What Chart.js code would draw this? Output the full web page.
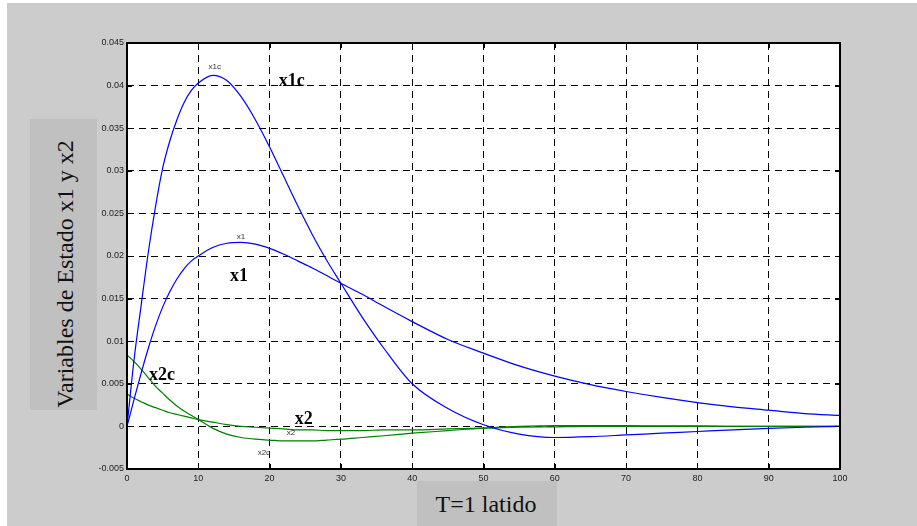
<!DOCTYPE html>
<html>
<head>
<meta charset="utf-8">
<script src="https://cdn.jsdelivr.net/npm/chart.js@4/dist/chart.umd.min.js"></script>
<style>
  body { margin: 0; background: #fff; width: 917px; height: 526px; overflow: hidden; }
  #fondo { position: absolute; left: 7px; top: 3px; width: 910px; height: 523px; background: #cccccc; }
  #grafica { position: absolute; left: 0; top: 0; }
  .caja { position: absolute; background: #c0c0c0; }
  .titulo { position: absolute; font-family: "Liberation Serif", "DejaVu Serif", serif; font-size: 24px; color: #111; white-space: nowrap; }
</style>
</head>
<body>
<div id="fondo">
  <canvas id="grafica" width="910" height="523"></canvas>
  <!-- cajas de los titulos de ejes (coordenadas relativas al fondo) -->
  <div class="caja" style="left:23px; top:116px; width:67px; height:291px;"></div>
  <div class="titulo" id="tituloY" style="left:58px; top:271px; transform: translate(-50%, -50%) rotate(-90deg);">Variables de Estado x1 y x2</div>
  <div class="caja" style="left:410px; top:478px; width:140px; height:45px;"></div>
  <div class="titulo" style="left:479px; top:501px; transform: translate(-50%, -50%);">T=1 latido</div>
</div>
<script>
// ==========================================
// DATOS
// ==========================================
const tiempos = [0, 1, 2, 3, 4, 5, 6, 7, 8, 9, 10, 12, 14, 16, 18, 20, 22, 24, 26, 28, 30, 33, 36, 40, 45, 50, 55, 60, 65, 70, 75, 80, 85, 90, 95, 100];

const x1c = [0, 0.0079, 0.0143, 0.0205, 0.0258, 0.0303, 0.0335, 0.0360, 0.0380, 0.0394, 0.0403, 0.0412, 0.0406, 0.0387, 0.0360, 0.0328, 0.0293, 0.0258, 0.0225, 0.0195, 0.0168, 0.0128, 0.0092, 0.0050, 0.0021, 0.0002, -0.0009, -0.0013, -0.0012, -0.0010, -0.0008, -0.0006, -0.0004, -0.00023, -0.0001, 0];

const x1 = [0, 0.0032, 0.0063, 0.0092, 0.0118, 0.0140, 0.0158, 0.0173, 0.0185, 0.0194, 0.0200, 0.0210, 0.0215, 0.0216, 0.0214, 0.0209, 0.0202, 0.0194, 0.0186, 0.0177, 0.0168, 0.0155, 0.0141, 0.0123, 0.0102, 0.0086, 0.0071, 0.0059, 0.0049, 0.0041, 0.0034, 0.0028, 0.0023, 0.0019, 0.0015, 0.0013];

const x2c = [0.0084, 0.0076, 0.0067, 0.0057, 0.0047, 0.0039, 0.0031, 0.0024, 0.0018, 0.0013, 0.0008, -0.0002, -0.0009, -0.0013, -0.0015, -0.0016, -0.0017, -0.0017, -0.0017, -0.0016, -0.0015, -0.0013, -0.0011, -0.0008, -0.0005, -0.0002, 0, 0.0001, 0.0001, 0.0001, 0.00005, 0.00005, 0, 0, 0, 0];

const x2 = [0.0038, 0.0033, 0.0029, 0.0025, 0.0022, 0.0019, 0.0016, 0.0014, 0.0012, 0.0010, 0.0008, 0.0005, 0.0002, 0, -0.0001, -0.0002, -0.0003, -0.0004, -0.0004, -0.0005, -0.0005, -0.0005, -0.0004, -0.0004, -0.0003, -0.0002, -0.0001, -0.00005, 0, 0, 0, 0, 0, 0, 0, 0];

const ticksX = ['0', '10', '20', '30', '40', '50', '60', '70', '80', '90', '100'];
const ticksY = ['-0.005', '0', '0.005', '0.01', '0.015', '0.02', '0.025', '0.03', '0.035', '0.04', '0.045'];

// etiquetas sobre las curvas: [texto, t, valor, grande]
const etiquetas = [
    ['x1c', 12.3, 0.0422, false],
    ['x1c', 23.1, 0.0405, true],
    ['x1', 16.0, 0.0223, false],
    ['x1', 15.7, 0.0176, true],
    ['x2c', 4.9, 0.0060, true],
    ['x2', 24.8, 0.0008, true],
    ['x2', 23.0, -0.0007, false],
    ['x2c', 19.2, -0.0031, false]
];

function serie(valores) {
    return tiempos.map((t, i) => ({ x: t, y: valores[i] }));
}

// ==========================================
// PLUGINS (fondo blanco, marco, marcas y textos)
// ==========================================
const marcoPlugin = {
    id: 'marco',
    beforeDraw(chart) {
        const a = chart.chartArea;
        const ctx = chart.ctx;
        ctx.save();
        ctx.fillStyle = '#fff';
        ctx.fillRect(a.left, a.top, a.right - a.left, a.bottom - a.top);
        ctx.restore();
    },
    afterDraw(chart) {
        const a = chart.chartArea;
        const ctx = chart.ctx;
        const sx = chart.scales.x, sy = chart.scales.y;
        ctx.save();
        ctx.strokeStyle = '#000';
        ctx.lineWidth = 1;
        ctx.beginPath();
        ticksX.forEach(v => {
            const px = Math.round(sx.getPixelForValue(Number(v))) + 0.5;
            ctx.moveTo(px, a.top); ctx.lineTo(px, a.top + 5);
            ctx.moveTo(px, a.bottom); ctx.lineTo(px, a.bottom - 5);
        });
        ticksY.forEach(v => {
            const py = Math.round(sy.getPixelForValue(Number(v))) + 0.5;
            ctx.moveTo(a.left, py); ctx.lineTo(a.left + 5, py);
            ctx.moveTo(a.right, py); ctx.lineTo(a.right - 5, py);
        });
        ctx.stroke();
        ctx.lineWidth = 2;
        ctx.strokeRect(a.left, a.top, a.right - a.left, a.bottom - a.top);

        ctx.textAlign = 'center';
        ctx.textBaseline = 'middle';
        etiquetas.forEach(([texto, t, v, grande]) => {
            ctx.font = grande ? 'bold 18px "Liberation Serif", serif' : '8px "Liberation Sans", Arial, sans-serif';
            ctx.fillStyle = grande ? '#000' : '#333';
            ctx.fillText(texto, sx.getPixelForValue(t), sy.getPixelForValue(v));
        });
        ctx.restore();
    }
};

// ==========================================
// GRAFICA
// ==========================================
const fuenteTicks = { family: '"Liberation Sans", Arial, sans-serif', size: 9 };

new Chart(document.getElementById('grafica').getContext('2d'), {
    type: 'line',
    data: {
        datasets: [
            { label: 'x1c', data: serie(x1c), borderColor: '#0000ff' },
            { label: 'x1', data: serie(x1), borderColor: '#0000ff' },
            { label: 'x2c', data: serie(x2c), borderColor: '#008000' },
            { label: 'x2', data: serie(x2), borderColor: '#008000' }
        ]
    },
    options: {
        responsive: false,
        animation: false,
        layout: { padding: { top: 40, right: 77, left: 0, bottom: 0 } },
        elements: {
            point: { radius: 0 },
            line: { borderWidth: 1.2, cubicInterpolationMode: 'monotone' }
        },
        plugins: { legend: { display: false }, tooltip: { enabled: false } },
        scales: {
            x: {
                type: 'linear', min: 0, max: 100,
                afterFit: s => { s.height = 57; },
                grid: { color: '#000', lineWidth: 1, drawTicks: false },
                border: { display: false, dash: [7, 5] },
                ticks: {
                    stepSize: 10, padding: 4, color: '#222', font: fuenteTicks, maxRotation: 0,
                    callback: (v, i) => ticksX[i]
                }
            },
            y: {
                type: 'linear', min: -0.005, max: 0.045,
                afterFit: s => { s.width = 120; },
                grid: { color: '#000', lineWidth: 1, drawTicks: false },
                border: { display: false, dash: [7, 5] },
                ticks: {
                    stepSize: 0.005, padding: 3, color: '#222', font: fuenteTicks,
                    callback: (v, i) => ticksY[i]
                }
            }
        }
    },
    plugins: [marcoPlugin]
});
</script>
</body>
</html>
